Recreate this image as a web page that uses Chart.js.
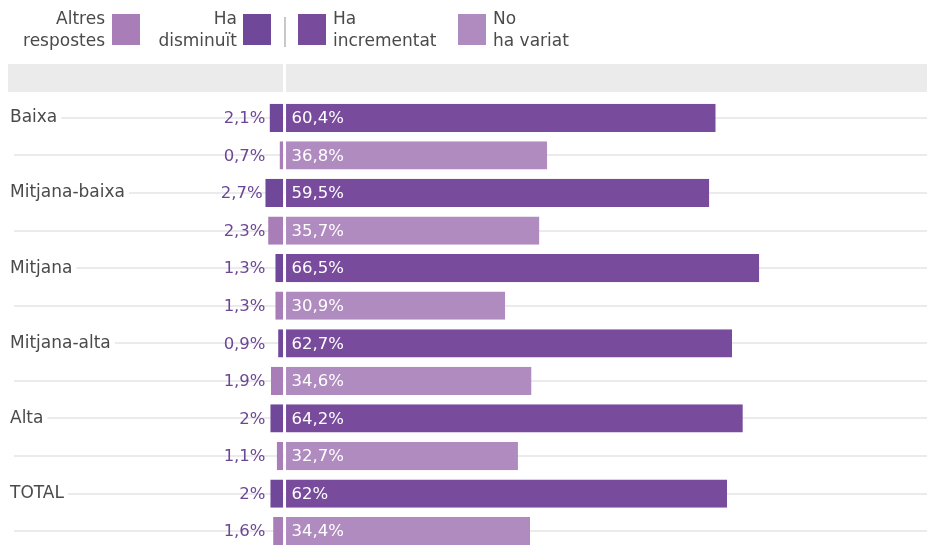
<!DOCTYPE html>
<html>
<head>
<meta charset="utf-8">
<script src="https://cdn.jsdelivr.net/npm/chart.js@4.4.1/dist/chart.umd.min.js"></script>
<style>
  html, body { margin: 0; padding: 0; background: #fff; overflow: hidden; }
  #wrap { position: relative; width: 935px; height: 545px; overflow: hidden; }
  #chartBox { position: absolute; left: 0; top: 0; width: 935px; height: 560px; }
  .lg { position: absolute; font-family: "DejaVu Sans", sans-serif; font-size: 17px; line-height: 22px; color: #4a4a4a; white-space: nowrap; }
  .sq { position: absolute; width: 28px; height: 31px; }
  .sep { position: absolute; left: 284px; top: 17px; width: 2px; height: 30px; background: #c8c8c8; }
</style>
</head>
<body>
<div id="wrap">
  <div id="chartBox"><canvas id="c" width="935" height="560"></canvas></div>
  <div class="lg" style="right:830px; top:7px; text-align:right;">Altres<br>respostes</div>
  <div class="sq" style="left:112px; top:14px; background:#a87db8;"></div>
  <div class="lg" style="right:698px; top:7px; text-align:right;">Ha<br>disminuït</div>
  <div class="sq" style="left:243px; top:14px; background:#70489a;"></div>
  <div class="sep"></div>
  <div class="sq" style="left:298px; top:14px; background:#784b9c;"></div>
  <div class="lg" style="left:333px; top:7px;">Ha<br>incrementat</div>
  <div class="sq" style="left:458px; top:14px; background:#b08bbf;"></div>
  <div class="lg" style="left:493px; top:7px;">No<br>ha variat</div>
</div>
<script>
const categories = ['Baixa', 'Mitjana-baixa', 'Mitjana', 'Mitjana-alta', 'Alta', 'TOTAL'];
const haDisminuit = [2.1, 2.7, 1.3, 0.9, 2, 2];
const altresRespostes = [0.7, 2.3, 1.3, 1.9, 1.1, 1.6];
const haIncrementat = [60.4, 59.5, 66.5, 62.7, 64.2, 62];
const noHaVariat = [36.8, 35.7, 30.9, 34.6, 32.7, 34.4];

const rowLabels = [];
const leftDark = [], leftLight = [], rightDark = [], rightLight = [];
categories.forEach((c, i) => {
  rowLabels.push(c, '');
  leftDark.push(-haDisminuit[i], null);
  rightDark.push(haIncrementat[i], null);
  leftLight.push(null, -altresRespostes[i]);
  rightLight.push(null, noHaVariat[i]);
});

const FONT = '"DejaVu Sans", sans-serif';
const fmt = v => String(Math.abs(v)).replace('.', ',') + '%';

const headerBand = {
  id: 'headerBand',
  beforeDraw(chart) {
    const ctx = chart.ctx;
    ctx.save();
    ctx.fillStyle = '#ebebeb';
    ctx.fillRect(8, 64, 275, 28);
    ctx.fillRect(286, 64, 641, 28);
    ctx.restore();
  }
};

const valueLabels = {
  id: 'valueLabels',
  afterDatasetsDraw(chart) {
    const ctx = chart.ctx;
    const zeroPx = chart.scales.x.getPixelForValue(0);
    ctx.save();
    ctx.font = '16.5px ' + FONT;
    ctx.textBaseline = 'middle';
    chart.data.datasets.forEach((ds, di) => {
      const meta = chart.getDatasetMeta(di);
      meta.data.forEach((el, i) => {
        const v = ds.data[i];
        if (v === null || v === undefined) return;
        if (v < 0) {
          ctx.fillStyle = '#6d4797';
          ctx.textAlign = 'right';
          ctx.fillText(fmt(v), Math.min(zeroPx - 19, el.x - 2.5), el.y + 1);
        } else {
          ctx.fillStyle = '#ffffff';
          ctx.textAlign = 'left';
          ctx.fillText(fmt(v), el.base + 7, el.y + 1);
        }
      });
    });
    ctx.restore();
  }
};

const common = {
  grouped: false,
  barPercentage: 0.75,
  categoryPercentage: 1,
  borderSkipped: false,
  borderColor: '#ffffff'
};

new Chart(document.getElementById('c'), {
  type: 'bar',
  data: {
    labels: rowLabels,
    datasets: [
      Object.assign({ label: 'Ha disminuït', data: leftDark, backgroundColor: '#70489a',
        borderWidth: { left: 0, right: 1.5, top: 0, bottom: 0 } }, common),
      Object.assign({ label: 'Altres respostes', data: leftLight, backgroundColor: '#a87db8',
        borderWidth: { left: 0, right: 1.5, top: 0, bottom: 0 } }, common),
      Object.assign({ label: 'Ha incrementat', data: rightDark, backgroundColor: '#784b9c',
        borderWidth: { left: 1.5, right: 0, top: 0, bottom: 0 } }, common),
      Object.assign({ label: 'No ha variat', data: rightLight, backgroundColor: '#b08bbf',
        borderWidth: { left: 1.5, right: 0, top: 0, bottom: 0 } }, common)
    ]
  },
  options: {
    indexAxis: 'y',
    responsive: false,
    animation: false,
    events: [],
    layout: { padding: { left: 14, right: 8, top: 99, bottom: 10 } },
    plugins: { legend: { display: false }, tooltip: { enabled: false } },
    scales: {
      x: { display: false, min: -37.9, max: 90 },
      y: {
        position: 'left',
        afterFit(scale) { scale.width = 0; },
        border: { display: false },
        grid: { color: '#ebebeb', lineWidth: 2, drawTicks: false, offset: false },
        ticks: {
          mirror: true,
          padding: -4,
          crossAlign: 'near',
          color: '#4a4a4a',
          font: { family: FONT, size: 17 },
          showLabelBackdrop: true,
          backdropColor: '#ffffff',
          backdropPadding: { top: 2, bottom: 2, left: 0, right: 4 }
        }
      }
    }
  },
  plugins: [headerBand, valueLabels]
});
</script>
</body>
</html>
